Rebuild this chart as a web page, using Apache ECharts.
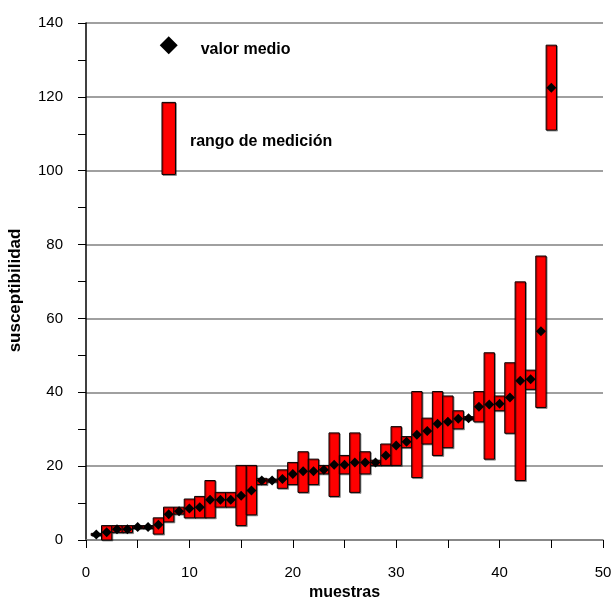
<!DOCTYPE html>
<html>
<head>
<meta charset="utf-8">
<script src="https://cdn.jsdelivr.net/npm/echarts@6/dist/echarts.min.js"></script>
<style>
  html, body { margin: 0; padding: 0; background: #fff; }
  #chart { width: 612px; height: 597px; }
</style>
</head>
<body>
<div id="chart"></div>
<script>
// numero de muestra
const muestras = [1, 2, 3, 4, 5, 6, 7, 8, 9, 10, 11, 12, 13, 14, 15, 16, 17, 18, 19, 20,
  21, 22, 23, 24, 25, 26, 27, 28, 29, 30, 31, 32, 33, 34, 35, 36, 37, 38, 39, 40,
  41, 42, 43, 44, 45];
// valor medio de cada muestra
const valorMedio = [1.5, 2.1, 2.9, 2.9, 3.5, 3.5, 4.1, 7.0, 7.8, 8.5, 8.9, 10.9, 10.9, 10.9, 12.0, 13.4, 16.1, 16.1, 16.5, 17.9,
  18.6, 18.6, 19.0, 20.4, 20.4, 21.0, 21.0, 21.0, 22.9, 25.6, 26.6, 28.5, 29.5, 31.5, 32.0, 32.8, 33.0, 36.1, 36.7, 36.9,
  38.6, 43.1, 43.5, 56.5, 122.5];
// rango de medicion (minimo y maximo)
const rangoMin = [1.2, 0, 2, 2, 3.1, 3.1, 1.6, 4.9, 7, 6, 6, 6, 8.9, 8.9, 3.9, 6.8, 15, 15.7, 14, 15,
  12.9, 15, 17.9, 11.8, 17.9, 12.9, 17.9, 20.2, 20.2, 20.2, 25, 16.9, 26, 22.9, 25, 30.1, 32.6, 32, 21.9, 35,
  28.9, 16.1, 40.8, 35.9, 111];
const rangoMax = [1.8, 3.9, 3.9, 3.9, 3.9, 3.9, 6.0, 8.9, 8.9, 11.1, 11.8, 16.1, 12.9, 12.9, 20.2, 20.2, 16.7, 16.5, 19, 21,
  23.9, 21.9, 20.2, 29, 22.9, 29, 23.9, 21.6, 26, 30.7, 28, 40.2, 33, 40.2, 39, 35, 33.4, 40.2, 50.7, 39,
  48, 69.9, 46, 76.9, 134];

// leyenda dibujada dentro del grafico
const leyendaMedio = [[8, 134, 'valor medio']];
const leyendaRango = [[8, 99, 118.5, 'rango de medición']];

const FONT = 'Liberation Sans, Arial, sans-serif';

const boxData = muestras.map((m, i) => [m, rangoMin[i], rangoMax[i]]);
const meanData = muestras.map((m, i) => [m, valorMedio[i]]);

const makeBox = (half, withText) => (params, api) => {
  const x = api.value(0);
  const p1 = api.coord([x - half, api.value(2)]);
  const p2 = api.coord([x + half, api.value(1)]);
  const el = {
    type: 'rect',
    shape: { x: p1[0], y: p1[1], width: p2[0] - p1[0], height: p2[1] - p1[1] },
    style: {
      fill: '#ff0000', stroke: '#000', lineWidth: 1,
      shadowColor: 'rgba(0,0,0,0.35)', shadowOffsetX: 1, shadowOffsetY: 1, shadowBlur: 0
    }
  };
  if (withText) {
    el.textContent = {
      style: { text: api.value(3), fill: '#000', font: 'bold 16px ' + FONT }
    };
    el.textConfig = { position: 'right', distance: 14, offset: [0, 3] };
  }
  return el;
};

const chart = echarts.init(document.getElementById('chart'));
chart.setOption({
  animation: false,
  grid: { left: 86, right: 9, top: 23, bottom: 57, outerBoundsMode: 'none', containLabel: false },
  xAxis: {
    type: 'value', min: 0, max: 50, interval: 10,
    name: 'muestras', nameLocation: 'middle', nameGap: 44,
    nameTextStyle: { fontFamily: FONT, fontSize: 16, fontWeight: 'bold', color: '#000' },
    axisLine: { show: true, onZero: false, lineStyle: { color: '#808080', width: 1.5 } },
    axisTick: { show: true, inside: false, length: 8, lineStyle: { color: '#000' } },
    minorTick: { show: true, splitNumber: 2, length: 8, lineStyle: { color: '#000' } },
    axisLabel: { margin: 25, fontFamily: FONT, fontSize: 15, color: '#000' },
    splitLine: { show: false }
  },
  yAxis: {
    type: 'value', min: 0, max: 140, interval: 20,
    name: 'susceptibilidad', nameLocation: 'middle', nameGap: 62,
    nameTextStyle: { fontFamily: FONT, fontSize: 17, fontWeight: 'bold', color: '#000', padding: [0, 18, 0, 0] },
    axisLine: { show: true, lineStyle: { color: '#000', width: 1.5 } },
    axisTick: { show: true, inside: false, length: 8, lineStyle: { color: '#000' } },
    minorTick: { show: true, splitNumber: 2, length: 8, lineStyle: { color: '#000' } },
    axisLabel: { margin: 23, fontFamily: FONT, fontSize: 15, color: '#000' },
    splitLine: { show: true, lineStyle: { color: '#808080', width: 1.5 } }
  },
  series: [
    {
      type: 'custom', name: 'rango', data: boxData,
      renderItem: makeBox(0.5, false), z: 2
    },
    {
      type: 'scatter', name: 'medio', data: meanData,
      symbol: 'diamond', symbolSize: 10,
      itemStyle: { color: '#000', opacity: 1 }, z: 3
    },
    {
      type: 'custom', name: 'leyendaRango', data: leyendaRango,
      renderItem: makeBox(0.65, true), z: 2
    },
    {
      type: 'scatter', name: 'leyendaMedio', data: leyendaMedio,
      symbol: 'diamond', symbolSize: 18,
      itemStyle: { color: '#000', opacity: 1 }, z: 3,
      label: {
        show: true, position: 'right', distance: 23, offset: [0, 4],
        formatter: (p) => p.value[2],
        fontFamily: FONT, fontSize: 16, fontWeight: 'bold', color: '#000'
      }
    }
  ]
});
</script>
</body>
</html>
